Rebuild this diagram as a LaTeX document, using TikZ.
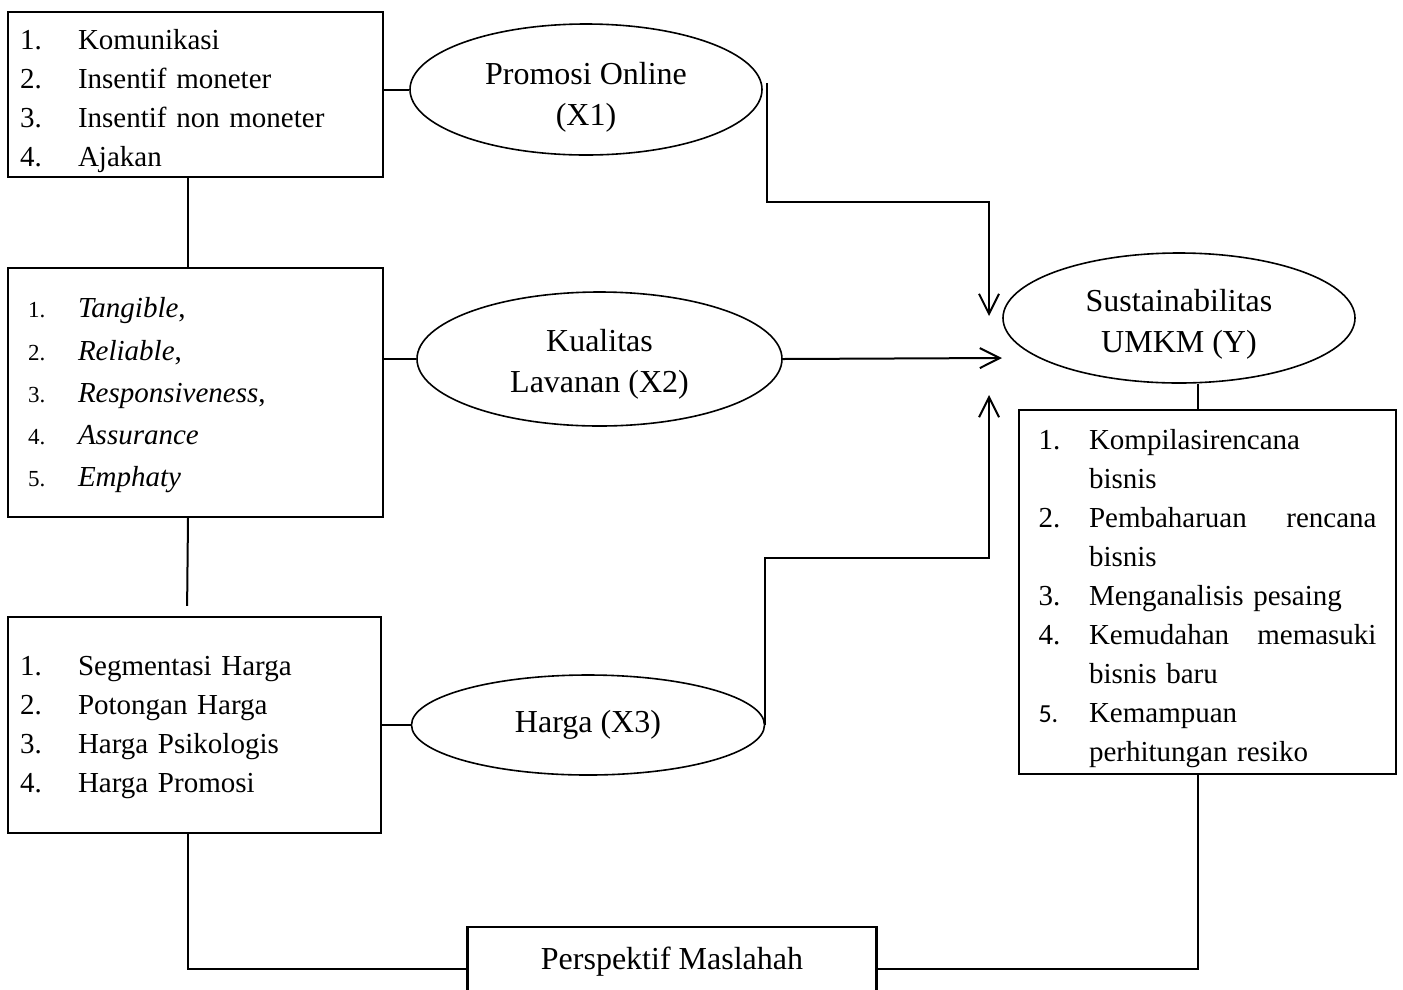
\documentclass[tikz,border=0pt]{standalone}
\usepackage{fontspec}
\setmainfont{Liberation Serif}
\newfontfamily\calfont{Carlito}
\usepackage{tikz}
\usetikzlibrary{shapes.geometric,arrows.meta}
\newcommand{\itm}[2][58pt]{\makebox[#1][l]{#2}}
\newcommand{\smnum}[1]{\hspace*{8pt}{\fontsize{23}{23}\selectfont #1}}
\newcommand{\jline}[2]{\makebox[287.5pt][l]{#1\hfill #2}}
\newcommand{\topgap}[1]{\rule{0pt}{#1}}

\begin{document}
\begin{tikzpicture}[x=1pt,y=-1pt,
  indbox/.style={draw,line width=2.2pt,rectangle,align=left,inner xsep=12pt,inner ysep=0pt,font=\fontsize{29}{39}\selectfont},
  varell/.style={draw,ellipse,line width=1.6pt,align=center,inner sep=0pt,font=\fontsize{32}{41}\selectfont},
  conn/.style={line width=2pt},
  arr/.style={line width=2pt,-{Straight Barb[length=20pt,width=20pt,line width=2pt]}}]
\useasboundingbox (0,0) rectangle (1403,989);
\node(ind1) at (195.5,94.5)[indbox,minimum height=165pt,text width=351pt] {\topgap{33pt}\itm{1.}Komunikasi\\\itm{2.}Insentif moneter\\\itm{3.}Insentif non moneter\\\itm{4.}Ajakan};
\node(ind2) at (195.5,392.5)[indbox,minimum height=249pt,text width=351pt,font=\fontsize{29}{42.3}\selectfont] {\topgap{26pt}\itm{\smnum{1.}}\textit{Tangible},\\\itm{\smnum{2.}}\textit{Reliable},\\\itm{\smnum{3.}}\textit{Responsiveness},\\\itm{\smnum{4.}}\textit{Assurance}\\\itm{\smnum{5.}}\textit{Emphaty}};
\node(ind3) at (194.5,725)[indbox,minimum height=216pt,text width=349pt] {\topgap{24pt}\itm{1.}Segmentasi Harga\\\itm{2.}Potongan Harga\\\itm{3.}Harga Psikologis\\\itm{4.}Harga Promosi};
\node(ind4) at (1207.5,592)[indbox,minimum height=364pt,inner xsep=19.5pt,text width=338pt] {\topgap{34pt}\itm[50.5pt]{1.}Kompilasirencana\\\itm[50.5pt]{}bisnis\\\itm[50.5pt]{2.}\jline{Pembaharuan}{rencana}\\\itm[50.5pt]{}bisnis\\\itm[50.5pt]{3.}Menganalisis pesaing\\\itm[50.5pt]{4.}\jline{Kemudahan}{memasuki}\\\itm[50.5pt]{}bisnis baru\\\itm[50.5pt]{{\calfont\fontsize{26}{26}\selectfont 5.}}Kemampuan\\\itm[50.5pt]{}perhitungan resiko};
\node(persp) at (672,969)[indbox,minimum width=409pt,minimum height=84pt,text depth=22pt,align=center,font=\fontsize{32}{41}\selectfont] {Perspektif Maslahah};
\node(x1) at (586,89.5)[varell,minimum width=352pt,minimum height=131pt] {\topgap{37pt}Promosi Online\\(X1)};
\node(x2) at (599.5,359)[varell,minimum width=365pt,minimum height=134pt] {\topgap{32pt}Kualitas\\Lavanan (X2)};
\node(x3) at (588,725)[varell,minimum width=353pt,minimum height=100pt] {Harga (X3)};
\node(sus) at (1179,318)[varell,minimum width=352pt,minimum height=130pt] {\topgap{34pt}Sustainabilitas\\UMKM (Y)};
\coordinate(x1out) at (767,83);
\coordinate(yin1) at (989,316);
\coordinate(yin2) at (1002,358);
\coordinate(yin3) at (989,395);
\draw[conn] (x1.west) -- (x1.west -| ind1.east);
\draw[conn] (x2.west) -- (x2.west -| ind2.east);
\draw[conn] (x3.west) -- (x3.west -| ind3.east);
\draw[conn] ([xshift=-7.5pt]ind1.south) -- ([xshift=-7.5pt]ind2.north);
\draw[conn,shorten >=10pt] ([xshift=-7.5pt]ind2.south) -- ([xshift=-7.5pt]ind3.north);
\draw[conn] ([xshift=-6.5pt]ind3.south) |- (persp.west);
\draw[conn] (persp.east) -| ([xshift=-9.5pt]ind4.south);
\draw[conn] ([xshift=-9.5pt]ind4.north) -- ([xshift=-9.5pt]ind4.north |- sus.south);
\draw[arr] (x1out) -- ++(0,119) -| (yin1);
\draw[arr] (x2.east) -- (yin2);
\draw[arr] (x3.east) -- ++(0,-167) -| (yin3);
\end{tikzpicture}
\end{document}
